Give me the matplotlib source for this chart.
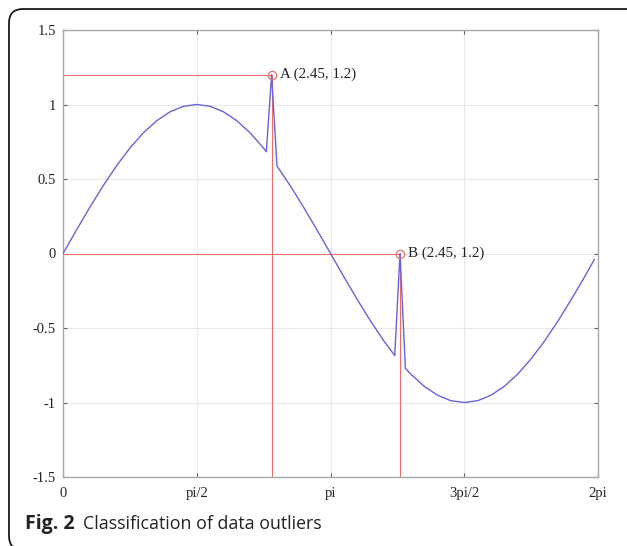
import numpy as np
import matplotlib.pyplot as plt
from matplotlib.patches import FancyBboxPatch

# curve samples (x in rad)
x_vals = [0.000, 0.157, 0.314, 0.471, 0.628, 0.785, 0.942, 1.100, 1.257, 1.414,
          1.571, 1.728, 1.885, 2.042, 2.199, 2.356, 2.388, 2.450, 2.513, 2.670,
          2.827, 2.985, 3.142, 3.299, 3.456, 3.613, 3.770, 3.896, 3.958, 4.021,
          4.084, 4.241, 4.398, 4.555, 4.712, 4.869, 5.027, 5.184, 5.341, 5.498,
          5.655, 5.812, 5.969, 6.126, 6.240]
y_vals = [0.000, 0.156, 0.309, 0.454, 0.588, 0.707, 0.809, 0.891, 0.951, 0.988,
          1.000, 0.988, 0.951, 0.891, 0.809, 0.707, 0.683, 1.200, 0.588, 0.454,
          0.309, 0.156, 0.000, -0.156, -0.309, -0.454, -0.588, -0.685, 0.000, -0.771,
          -0.809, -0.891, -0.951, -0.988, -1.000, -0.988, -0.951, -0.891, -0.809, -0.707,
          -0.588, -0.454, -0.309, -0.156, -0.040]

# outliers
out_x = [2.450, 3.958]
out_y = [1.2, 0.0]
out_labels = ["A (2.45, 1.2)", "B (2.45, 1.2)"]

xtick_vals = [0, np.pi / 2, np.pi, 3 * np.pi / 2, 2 * np.pi]
xtick_labels = ["0", "pi/2", "pi", "3pi/2", "2pi"]
ytick_vals = [-1.5, -1, -0.5, 0, 0.5, 1, 1.5]
ytick_labels = ["-1.5", "-1", "-0.5", "0", "0.5", "1", "1.5"]

W, H = 627, 546
fig = plt.figure(figsize=(W / 100, H / 100), dpi=100)
ax = fig.add_axes([63 / W, 1 - 477 / H, (598 - 63) / W, (477 - 30) / H])

ymin, ymax = -1.5, 1.5
for px, py in zip(out_x, out_y):
    ax.plot([0, px], [py, py], color="#e8706c", lw=0.8, zorder=2)
    ax.plot([px, px], [ymin, py], color="#e8706c", lw=0.8, zorder=2)

ax.plot(x_vals, y_vals, color="#6a62d8", lw=1.0, zorder=3)
ax.plot(out_x, out_y, "o", mfc="none", mec="#e8706c", ms=6, mew=0.9, zorder=4)

for px, py, lab in zip(out_x, out_y, out_labels):
    ax.annotate(lab, (px, py), xytext=(6, 0), textcoords="offset points",
                va="center", ha="left", fontsize=10.8, family="Liberation Serif",
                color="#222222")

ax.set_xlim(0, 2 * np.pi)
ax.set_ylim(ymin, ymax)
ax.set_xticks(xtick_vals)
ax.set_xticklabels(xtick_labels)
ax.set_yticks(ytick_vals)
ax.set_yticklabels(ytick_labels)
ax.grid(True, color="#e8e8e8", lw=0.8)
ax.set_axisbelow(True)
for s in ax.spines.values():
    s.set_color("#a8a8a8")
    s.set_linewidth(1.0)
ax.tick_params(direction="in", length=3, width=0.8, color="#606060",
               top=True, right=True, labelsize=10.5)
ax.tick_params(axis="y", pad=5)
ax.tick_params(axis="x", pad=7)
for lab in ax.get_xticklabels() + ax.get_yticklabels():
    lab.set_family("Liberation Serif")
    lab.set_color("#222222")

# caption
fig.text(25 / W, 1 - 524 / H, "Fig. 2", fontsize=14, weight="bold",
         family="Open Sans", va="center", ha="left", color="#222222")
fig.text(83 / W, 1 - 524 / H, "Classification of data outliers", fontsize=12.8,
         family="Open Sans", va="center", ha="left", color="#222222")

# rounded frame (right and bottom edges fall outside the figure)
frame = FancyBboxPatch((9, -4), 660, H - 9 + 4, boxstyle="round,pad=0,rounding_size=14",
                       transform=None, fill=False, ec="#1a1a1a", lw=1.3, clip_on=False)
fig.patches.append(frame)

fig.savefig("out.png", dpi=100)
